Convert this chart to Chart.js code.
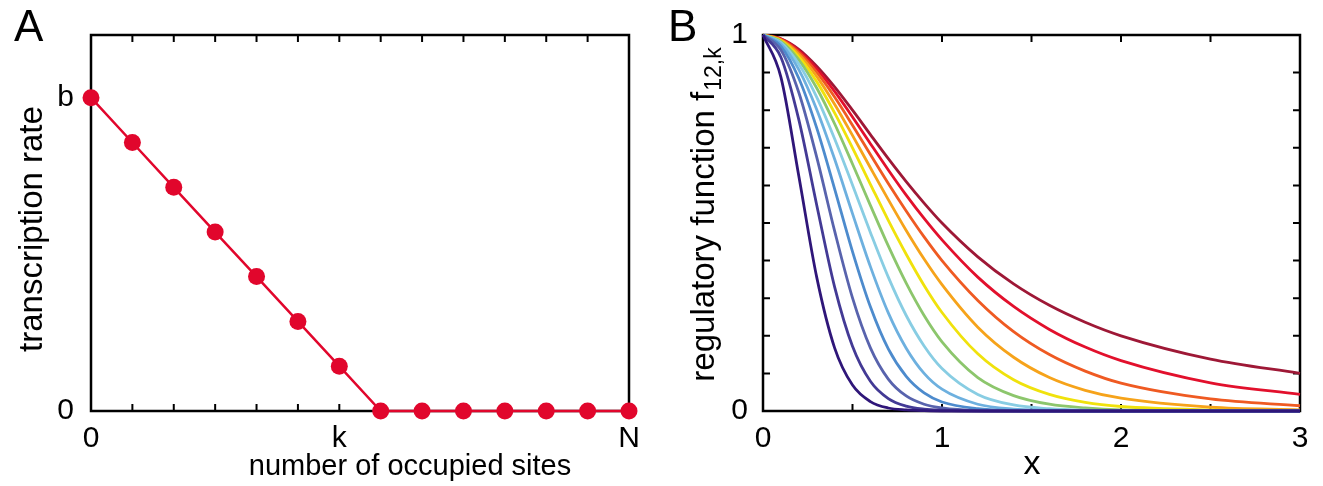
<!DOCTYPE html>
<html>
<head>
<meta charset="utf-8">
<script src="https://cdn.jsdelivr.net/npm/chart.js@4.4.1/dist/chart.umd.min.js"></script>
<style>
  html, body { margin: 0; padding: 0; background: #fff; }
  #wrap { position: relative; width: 1323px; height: 486px; overflow: hidden; }
  canvas { position: absolute; top: 0; }
  #chartA { left: 0; }
  #chartB { left: 661px; }
  .tag { position: absolute; font: 44px "Liberation Sans", Arial, sans-serif; line-height: 1; color: #000; }
</style>
</head>
<body>
<div id="wrap">
  <canvas id="chartA" width="661" height="486"></canvas>
  <canvas id="chartB" width="662" height="486"></canvas>
  <div class="tag" style="left:14px;top:4px">A</div>
  <div class="tag" style="left:668px;top:4px">B</div>
</div>
<script>
// panel A: transcription rate vs number of occupied sites
const aSites = [0, 1, 2, 3, 4, 5, 6, 7, 8, 9, 10, 11, 12, 13];
const aRate = [1, 0.857, 0.714, 0.571, 0.429, 0.286, 0.143, 0, 0, 0, 0, 0, 0, 0];
const aXTickVals = [0, 6, 13];
const aXTickLabels = ['0', 'k', 'N'];
const aYTickVals = [0, 1];
const aYTickLabels = ['0', 'b'];

// panel B: regulatory function f12,k for k = 1..12
const bX = [0, 0.1, 0.2, 0.3, 0.4, 0.5, 0.6, 0.7, 0.8, 0.9, 1.0, 1.2, 1.4, 1.6, 1.8, 2.0, 2.5, 3.0];
const fk1  = [1, 0.888, 0.625, 0.356, 0.168, 0.069, 0.025, 0.008, 0.003, 0.001, 0, 0, 0, 0, 0, 0, 0, 0];
const fk2  = [1, 0.941, 0.775, 0.548, 0.330, 0.172, 0.079, 0.033, 0.013, 0.005, 0.002, 0, 0, 0, 0, 0, 0, 0];
const fk3  = [1, 0.960, 0.847, 0.675, 0.479, 0.301, 0.168, 0.085, 0.040, 0.018, 0.008, 0.001, 0, 0, 0, 0, 0, 0];
const fk4  = [1, 0.970, 0.885, 0.753, 0.591, 0.424, 0.277, 0.165, 0.092, 0.048, 0.024, 0.006, 0.001, 0, 0, 0, 0, 0];
const fk5  = [1, 0.976, 0.908, 0.802, 0.670, 0.525, 0.384, 0.261, 0.167, 0.100, 0.058, 0.018, 0.005, 0.002, 0, 0, 0, 0];
const fk6  = [1, 0.980, 0.923, 0.835, 0.724, 0.601, 0.475, 0.356, 0.254, 0.173, 0.113, 0.044, 0.016, 0.006, 0.002, 0.001, 0, 0];
const fk7  = [1, 0.983, 0.934, 0.859, 0.764, 0.657, 0.547, 0.439, 0.340, 0.254, 0.184, 0.089, 0.041, 0.018, 0.008, 0.003, 0.001, 0];
const fk8  = [1, 0.985, 0.942, 0.876, 0.793, 0.700, 0.603, 0.507, 0.417, 0.334, 0.262, 0.152, 0.083, 0.044, 0.023, 0.012, 0.003, 0.001];
const fk9  = [1, 0.987, 0.949, 0.890, 0.816, 0.733, 0.647, 0.562, 0.480, 0.404, 0.336, 0.223, 0.143, 0.089, 0.055, 0.034, 0.010, 0.003];
const fk10 = [1, 0.988, 0.954, 0.901, 0.835, 0.760, 0.682, 0.605, 0.532, 0.463, 0.400, 0.294, 0.211, 0.150, 0.106, 0.074, 0.032, 0.014];
const fk11 = [1, 0.989, 0.958, 0.910, 0.850, 0.782, 0.711, 0.641, 0.574, 0.512, 0.455, 0.356, 0.278, 0.217, 0.170, 0.134, 0.075, 0.044];
const fk12 = [1, 0.990, 0.962, 0.917, 0.862, 0.800, 0.735, 0.671, 0.610, 0.553, 0.500, 0.410, 0.338, 0.281, 0.236, 0.200, 0.138, 0.100];
const bSeries = [fk1, fk2, fk3, fk4, fk5, fk6, fk7, fk8, fk9, fk10, fk11, fk12];
const bXTickVals = [0, 1, 2, 3];
const bYTickVals = [0, 1];

const bColors = ['#2f1679', '#433a95', '#5863ad', '#4d8bcd', '#6db0df', '#88cde3',
                 '#8cc66c', '#f0e20c', '#f6a31a', '#ef5a22', '#e2102c', '#9e1836'];

const FONT = '"Liberation Sans", Arial, sans-serif';
const red = '#e1062c';

// frame, inward ticks and axis titles
const framePlugin = {
  id: 'frame',
  beforeDatasetsDraw(chart, args, o) {
    const {ctx, chartArea: a, scales} = chart;
    ctx.save();
    ctx.strokeStyle = '#000';
    ctx.lineWidth = 2.5;
    ctx.strokeRect(a.left, a.top, a.right - a.left, a.bottom - a.top);
    ctx.lineWidth = 2;
    ctx.beginPath();
    o.xTicks.forEach(v => {
      const px = scales.x.getPixelForValue(v);
      ctx.moveTo(px, a.bottom); ctx.lineTo(px, a.bottom - o.len);
      ctx.moveTo(px, a.top); ctx.lineTo(px, a.top + o.len);
    });
    o.yTicks.forEach(v => {
      const py = scales.y.getPixelForValue(v);
      ctx.moveTo(a.left, py); ctx.lineTo(a.left + o.len, py);
      ctx.moveTo(a.right, py); ctx.lineTo(a.right - o.len, py);
    });
    ctx.stroke();
    ctx.restore();
  },
  afterDraw(chart, args, o) {
    const ctx = chart.ctx;
    ctx.save();
    ctx.fillStyle = '#000';
    ctx.textBaseline = 'middle';
    ctx.textAlign = 'center';
    ctx.font = o.xSize + 'px ' + FONT;
    ctx.fillText(o.xTitle, o.xTitlePos[0], o.xTitlePos[1]);
    // rotated y title, optional subscript
    ctx.font = o.ySize + 'px ' + FONT;
    ctx.translate(o.yTitlePos[0], o.yTitlePos[1]);
    ctx.rotate(-Math.PI / 2);
    ctx.textAlign = 'left';
    const w1 = ctx.measureText(o.yTitle).width;
    let w2 = 0;
    const subFont = Math.round(o.ySize * 0.7) + 'px ' + FONT;
    if (o.ySub) { ctx.font = subFont; w2 = ctx.measureText(o.ySub).width; ctx.font = o.ySize + 'px ' + FONT; }
    const x0 = -(w1 + w2) / 2;
    ctx.fillText(o.yTitle, x0, 0);
    if (o.ySub) { ctx.font = subFont; ctx.fillText(o.ySub, x0 + w1 + 1, o.ySize * 0.3); }
    ctx.restore();
  }
};

function fixedTicks(vals) {
  return s => { s.ticks = vals.map(v => ({value: v})); };
}

const tickFont = {family: FONT, size: 30};

new Chart(document.getElementById('chartA'), {
  type: 'line',
  data: {
    datasets: [{
      data: aSites.map((s, i) => ({x: s, y: aRate[i]})),
      borderColor: red,
      backgroundColor: red,
      borderWidth: 2.5,
      pointRadius: 8.5,
      pointBorderWidth: 0,
      pointBackgroundColor: red,
      clip: false
    }]
  },
  options: {
    responsive: false,
    animation: false,
    devicePixelRatio: 1,
    layout: {padding: {left: 0, top: 35, right: 32, bottom: 0}},
    plugins: {
      legend: {display: false},
      tooltip: {enabled: false},
      frame: {
        xTicks: aSites, yTicks: [], len: 7, xSize: 29, ySize: 33,
        xTitle: 'number of occupied sites', xTitlePos: [410, 467],
        yTitle: 'transcription rate', yTitlePos: [33, 229]
      }
    },
    scales: {
      x: {
        type: 'linear', min: 0, max: 13,
        grid: {display: false, drawTicks: false}, border: {display: false},
        afterBuildTicks: fixedTicks(aXTickVals),
        afterFit: s => { s.height = 75; },
        ticks: {
          padding: 10, color: '#000', font: tickFont, maxRotation: 0,
          callback: v => aXTickLabels[aXTickVals.indexOf(v)]
        }
      },
      y: {
        min: 0, max: 1.2,
        grid: {display: false, drawTicks: false}, border: {display: false},
        afterBuildTicks: fixedTicks(aYTickVals),
        afterFit: s => { s.width = 91; },
        ticks: {
          padding: 17, color: '#000', font: tickFont,
          callback: v => aYTickLabels[aYTickVals.indexOf(v)]
        }
      }
    }
  },
  plugins: [framePlugin]
});

new Chart(document.getElementById('chartB'), {
  type: 'line',
  data: {
    datasets: bSeries.map((f, k) => ({
      data: bX.map((x, i) => ({x: x, y: f[i]})),
      borderColor: bColors[k],
      borderWidth: 2.8,
      pointRadius: 0,
      cubicInterpolationMode: 'monotone',
      clip: false
    }))
  },
  options: {
    responsive: false,
    animation: false,
    devicePixelRatio: 1,
    layout: {padding: {left: 0, top: 35, right: 23, bottom: 0}},
    plugins: {
      legend: {display: false},
      tooltip: {enabled: false},
      frame: {
        xTicks: [0, 0.5, 1, 1.5, 2, 2.5, 3],
        yTicks: [0, 0.1, 0.2, 0.3, 0.4, 0.5, 0.6, 0.7, 0.8, 0.9, 1],
        len: 7, xSize: 34, ySize: 33,
        xTitle: 'x', xTitlePos: [371, 465],
        yTitle: 'regulatory function f', ySub: '12,k', yTitlePos: [44, 215]
      }
    },
    scales: {
      x: {
        type: 'linear', min: 0, max: 3,
        grid: {display: false, drawTicks: false}, border: {display: false},
        afterBuildTicks: fixedTicks(bXTickVals),
        afterFit: s => { s.height = 75; },
        ticks: {padding: 10, color: '#000', font: tickFont, maxRotation: 0}
      },
      y: {
        min: 0, max: 1,
        grid: {display: false, drawTicks: false}, border: {display: false},
        afterBuildTicks: fixedTicks(bYTickVals),
        afterFit: s => { s.width = 102; },
        ticks: {padding: 15, color: '#000', font: tickFont}
      }
    }
  },
  plugins: [framePlugin]
});
</script>
</body>
</html>
